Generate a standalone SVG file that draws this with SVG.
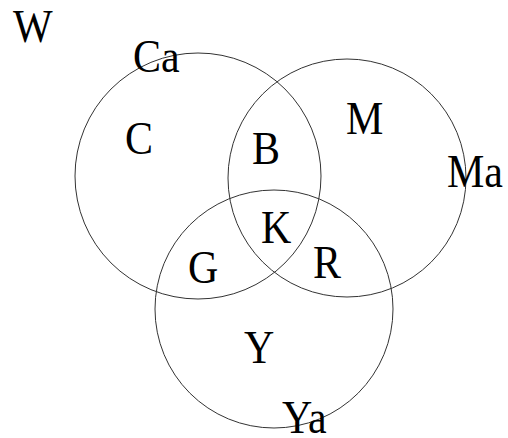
<svg xmlns="http://www.w3.org/2000/svg" width="508" height="438" viewBox="0 0 508 438">
<style>
.c{fill:none;stroke:#333;stroke-width:1}
.t{font-family:"Liberation Serif","Times New Roman",serif;font-size:42px;fill:#000}
</style>
<rect width="508" height="438" fill="#fff"/>
<g id="circle-C"><circle class="c" cx="198" cy="176" r="123"/></g>
<g id="circle-M"><circle class="c" cx="347" cy="178" r="119"/></g>
<g id="circle-Y"><circle class="c" cx="274" cy="309" r="119"/></g>
<g id="labels">
<g id="W"><text class="t" transform="translate(13,42) scale(1,1.08)">W</text></g>
<g id="Ca"><text class="t" transform="translate(133,72) scale(1,1.08)">Ca</text></g>
<g id="C"><text class="t" transform="translate(125,154) scale(1,1.08)">C</text></g>
<g id="B"><text class="t" transform="translate(252,164) scale(1,1.08)">B</text></g>
<g id="M"><text class="t" transform="translate(346,134) scale(1,1.08)">M</text></g>
<g id="Ma"><text class="t" transform="translate(447,187) scale(1,1.08)">Ma</text></g>
<g id="K"><text class="t" transform="translate(261,243) scale(1,1.08)">K</text></g>
<g id="G"><text class="t" transform="translate(188,283) scale(1,1.08)">G</text></g>
<g id="R"><text class="t" transform="translate(313,278) scale(1,1.08)">R</text></g>
<g id="Y"><text class="t" transform="translate(244,363) scale(1,1.08)">Y</text></g>
<g id="Ya"><text class="t" transform="translate(282,433) scale(1,1.08)">Ya</text></g>
</g>
</svg>
